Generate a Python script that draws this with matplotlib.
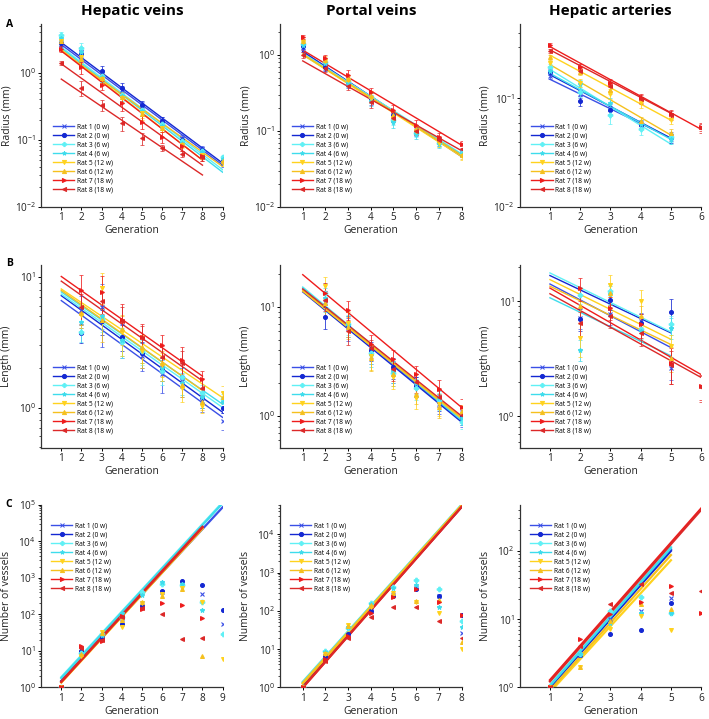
import matplotlib
matplotlib.use("Agg")
import matplotlib.pyplot as plt
from matplotlib.lines import Line2D
import numpy as np

nan = np.nan

plt.rcParams['font.family'] = ['Open Sans', 'DejaVu Sans']
plt.rcParams['mathtext.fontset'] = 'dejavusans'

# rats, colours, markers
rat_labels = ["Rat 1 (0 w)", "Rat 2 (0 w)", "Rat 3 (6 w)", "Rat 4 (6 w)",
              "Rat 5 (12 w)", "Rat 6 (12 w)", "Rat 7 (18 w)", "Rat 8 (18 w)"]
rat_colors = ["#3a4fe6", "#1428d2", "#5ff0f5", "#3edcec",
              "#ffd21e", "#f5c01e", "#ee1c1c", "#dc2828"]
rat_markers = ["x", "o", "P", "*", "v", "^", ">", "<"]

col_titles = ["Hepatic veins", "Portal veins", "Hepatic arteries"]

# ---------------- row A: radius (mm) ----------------
hv_rad_gen = [1, 2, 3, 4, 5, 6, 7, 8, 9]
hv_rad = [[2.7, 2.0, 0.95, 0.55, 0.32, 0.19, 0.105, 0.072, 0.045],
          [2.8, 1.9, 1.07, 0.6, 0.33, 0.19, 0.10, 0.07, 0.048],
          [3.6, 2.3, 0.9, 0.47, 0.28, 0.17, 0.095, 0.068, 0.055],
          [3.3, 2.0, 0.85, 0.45, 0.27, 0.16, 0.09, 0.065, 0.052],
          [3.0, 1.7, 0.8, 0.42, 0.25, 0.15, 0.085, 0.06, 0.046],
          [2.9, 1.6, 0.82, 0.44, 0.24, 0.15, 0.088, 0.058, 0.048],
          [2.25, 1.2, 0.65, 0.35, 0.185, 0.11, 0.08, 0.057, nan],
          [1.4, 0.6, 0.33, 0.175, 0.105, 0.076, 0.062, 0.055, nan]]
hv_rad_err = [[0.3, 0.3, 0.15, 0.08, 0.05, 0.025, 0.012, 0.008, 0.005],
              [0.3, 0.3, 0.18, 0.1, 0.05, 0.025, 0.012, 0.008, 0.005],
              [0.4, 0.5, 0.12, 0.07, 0.04, 0.02, 0.01, 0.007, 0.005],
              [0.3, 0.4, 0.12, 0.07, 0.04, 0.02, 0.01, 0.007, 0.005],
              [0.3, 0.3, 0.12, 0.07, 0.04, 0.02, 0.01, 0.007, 0.005],
              [0.3, 0.3, 0.12, 0.07, 0.04, 0.02, 0.01, 0.007, 0.005],
              [0.2, 0.25, 0.1, 0.08, 0.04, 0.02, 0.012, 0.008, nan],
              [0.1, 0.15, 0.06, 0.04, 0.02, 0.008, 0.006, 0.006, nan]]
# fit lines: (rat, value at gen 1, last gen, value at last gen)
hv_rad_fit = [(0, 2.6, 9, 0.042), (1, 2.8, 9, 0.045), (2, 2.4, 9, 0.036),
              (3, 2.3, 9, 0.033), (4, 2.2, 8, 0.05), (5, 2.1, 9, 0.04),
              (6, 2.1, 8, 0.05), (7, 1.35, 8, 0.042), (7, 0.8, 8, 0.03)]

pv_rad_gen = [1, 2, 3, 4, 5, 6, 7, 8]
pv_rad = [[1.22, 0.72, 0.42, 0.26, 0.15, 0.097, 0.072, 0.05],
          [1.3, 0.7, 0.44, 0.27, 0.16, 0.1, 0.075, 0.052],
          [1.4, 0.8, 0.45, 0.28, 0.14, 0.095, 0.07, 0.052],
          [1.35, 0.78, 0.43, 0.25, 0.13, 0.09, 0.068, 0.05],
          [1.45, 0.82, 0.47, 0.27, 0.15, 0.1, 0.07, 0.047],
          [1.5, 0.85, 0.48, 0.29, 0.16, 0.105, 0.075, 0.048],
          [1.7, 0.9, 0.55, 0.32, 0.19, 0.12, 0.083, 0.067],
          [1.0, 0.67, 0.39, 0.24, 0.15, 0.1, 0.077, 0.058]]
pv_rad_err = [[0.12, 0.08, 0.05, 0.04, 0.02, 0.012, 0.008, 0.005],
              [0.12, 0.08, 0.05, 0.04, 0.02, 0.012, 0.008, 0.005],
              [0.12, 0.1, 0.05, 0.04, 0.02, 0.012, 0.008, 0.005],
              [0.12, 0.1, 0.05, 0.04, 0.02, 0.012, 0.008, 0.005],
              [0.12, 0.1, 0.06, 0.04, 0.02, 0.012, 0.008, 0.005],
              [0.12, 0.1, 0.06, 0.04, 0.02, 0.012, 0.008, 0.005],
              [0.1, 0.1, 0.08, 0.05, 0.03, 0.02, 0.01, 0.007],
              [0.08, 0.07, 0.05, 0.04, 0.02, 0.012, 0.008, 0.006]]
pv_rad_fit = [(0, 1.1, 8, 0.046), (1, 1.1, 8, 0.047), (2, 1.05, 8, 0.05),
              (3, 1.0, 8, 0.049), (4, 1.0, 8, 0.046), (5, 1.02, 8, 0.048),
              (6, 1.15, 8, 0.065), (7, 0.83, 8, 0.055)]

ha_rad_gen = [1, 2, 3, 4, 5, 6]
ha_rad = [[0.16, 0.11, 0.08, 0.058, 0.045, nan],
          [0.175, 0.095, 0.078, 0.057, 0.043, nan],
          [0.195, 0.115, 0.07, 0.052, 0.044, nan],
          [0.18, 0.135, 0.09, 0.058, 0.042, nan],
          [0.21, 0.14, 0.11, 0.09, 0.063, nan],
          [0.24, 0.175, 0.12, 0.062, 0.048, nan],
          [0.31, 0.195, 0.14, 0.1, 0.072, 0.055],
          [0.275, 0.18, 0.13, 0.098, 0.07, 0.053]]
ha_rad_err = [[0.01, 0.01, 0.008, 0.005, 0.004, nan],
              [0.01, 0.01, 0.008, 0.005, 0.004, nan],
              [0.012, 0.012, 0.012, 0.006, 0.004, nan],
              [0.012, 0.012, 0.01, 0.006, 0.004, nan],
              [0.012, 0.012, 0.012, 0.008, 0.005, nan],
              [0.012, 0.012, 0.01, 0.005, 0.004, nan],
              [0.012, 0.012, 0.012, 0.01, 0.006, 0.005],
              [0.012, 0.012, 0.012, 0.01, 0.006, 0.005]]
ha_rad_fit = [(0, 0.15, 5, 0.043), (1, 0.165, 5, 0.043), (2, 0.185, 5, 0.038),
              (3, 0.17, 5, 0.042), (4, 0.25, 5, 0.063), (5, 0.205, 5, 0.046),
              (6, 0.3, 6, 0.052), (7, 0.28, 5, 0.073)]

# ---------------- row B: length (mm) ----------------
hv_len_gen = [1, 2, 3, 4, 5, 6, 7, 8, 9]
hv_len = [[nan, 5.6, 5.9, 3.4, 2.5, 1.8, 1.6, 1.12, 0.79],
          [nan, 3.7, 4.6, 3.5, 2.6, 2.0, 1.7, 1.2, 1.0],
          [nan, 3.8, 4.8, 3.2, 2.7, 1.9, 1.7, 1.3, 1.16],
          [nan, 4.55, 5.0, 3.3, 2.8, 2.0, 1.55, 1.2, 1.1],
          [nan, 5.1, 8.2, 3.8, 2.7, 2.1, 1.4, 1.03, 1.3],
          [nan, 5.3, 4.7, 4.0, 2.9, 2.2, 1.5, 1.1, 1.2],
          [nan, 7.9, 7.7, 4.7, 3.5, 3.0, 2.3, 1.64, nan],
          [nan, 5.9, 6.6, 4.6, 3.4, 2.45, 2.2, 1.42, nan]]
hv_len_err = [[nan, 1.5, 3.0, 1.0, 0.6, 0.5, 0.4, 0.2, 0.12],
              [nan, 0.6, 1.0, 0.8, 0.6, 0.4, 0.3, 0.2, 0.1],
              [nan, 0.6, 1.0, 0.8, 0.6, 0.4, 0.3, 0.2, 0.1],
              [nan, 0.8, 1.0, 0.8, 0.6, 0.4, 0.3, 0.2, 0.1],
              [nan, 1.0, 2.5, 1.3, 0.7, 0.5, 0.3, 0.12, 0.15],
              [nan, 1.0, 1.5, 1.0, 0.7, 0.5, 0.3, 0.15, 0.12],
              [nan, 2.5, 2.5, 1.5, 0.9, 0.6, 0.6, 0.25, nan],
              [nan, 1.5, 2.0, 1.3, 0.8, 0.5, 0.5, 0.25, nan]]
hv_len_fit = [(0, 6.6, 9, 0.84), (1, 7.2, 9, 0.92), (2, 7.4, 9, 1.0),
              (3, 7.7, 9, 1.06), (4, 8.1, 9, 1.19), (5, 7.9, 8, 1.35),
              (6, 10.1, 8, 1.74), (7, 9.3, 8, 1.6)]

pv_len_gen = [1, 2, 3, 4, 5, 6, 7, 8]
pv_len = [[nan, 11.0, 6.4, 3.8, 2.6, 1.9, 1.3, 0.95],
          [nan, 8.1, 6.8, 4.0, 2.8, 1.9, 1.35, 0.98],
          [nan, 13.5, 7.0, 3.8, 2.5, 1.8, 1.39, 0.88],
          [nan, 12.0, 6.8, 3.6, 2.6, 2.0, 1.45, 0.95],
          [nan, 15.4, 7.1, 3.55, 2.26, 1.47, 1.3, 1.05],
          [nan, 10.8, 6.6, 3.4, 2.4, 1.6, 1.2, 1.1],
          [nan, 13.4, 9.3, 4.6, 3.3, 2.4, 1.77, 1.22],
          [nan, 11.6, 6.0, 4.2, 2.7, 2.04, 1.5, 1.03]]
pv_len_err = [[nan, 3.0, 1.5, 0.8, 0.6, 0.4, 0.25, 0.15],
              [nan, 1.8, 1.5, 0.8, 0.6, 0.4, 0.25, 0.15],
              [nan, 3.0, 1.5, 0.8, 0.6, 0.4, 0.25, 0.12],
              [nan, 3.0, 1.5, 0.8, 0.6, 0.4, 0.25, 0.12],
              [nan, 3.5, 1.8, 0.9, 0.5, 0.3, 0.3, 0.15],
              [nan, 2.5, 1.5, 0.8, 0.5, 0.3, 0.25, 0.15],
              [nan, 3.0, 2.0, 0.9, 0.7, 0.5, 0.35, 0.2],
              [nan, 2.5, 1.5, 0.8, 0.6, 0.4, 0.3, 0.15]]
pv_len_fit = [(0, 14.4, 8, 0.9), (1, 13.7, 8, 0.88), (2, 15.2, 8, 0.93),
              (3, 14.9, 8, 0.91), (4, 13.9, 8, 0.95), (5, 14.2, 8, 0.97),
              (6, 19.7, 8, 1.2), (7, 14.6, 8, 1.0)]

ha_len_gen = [1, 2, 3, 4, 5, 6]
ha_len = [[nan, 7.2, 7.7, 6.7, 2.65, nan],
          [nan, 7.0, 10.3, 6.5, 8.1, nan],
          [nan, 11.4, 12.2, 5.7, 6.3, nan],
          [nan, 3.8, 11.5, 5.5, 5.9, nan],
          [nan, 4.8, 13.9, 10.0, 4.1, nan],
          [nan, 9.0, 11.8, 7.5, 3.2, nan],
          [nan, 13.0, 8.8, 6.3, 2.9, 1.84],
          [nan, 6.5, 7.4, 5.3, 2.8, 1.78]]
ha_len_err = [[nan, 1.5, 1.5, 1.2, 0.6, nan],
              [nan, 1.5, 2.0, 1.2, 2.3, nan],
              [nan, 2.0, 2.0, 1.0, 1.2, nan],
              [nan, 0.8, 2.0, 1.0, 1.2, nan],
              [nan, 1.5, 3.0, 2.5, 1.0, nan],
              [nan, 2.0, 2.5, 1.5, 0.8, nan],
              [nan, 3.0, 2.0, 1.5, 1.0, 0.45],
              [nan, 1.5, 1.5, 1.2, 0.9, 0.45]]
ha_len_fit = [(0, 14.1, 5, 3.95), (1, 16.7, 5, 5.3), (2, 17.6, 5, 5.4),
              (3, 10.7, 5, 3.35), (4, 15.4, 5, 4.66), (5, 13.5, 5, 4.2),
              (6, 13.0, 6, 2.3), (7, 11.6, 6, 2.17)]

# ---------------- row C: number of vessels ----------------
hv_num_gen = [1, 2, 3, 4, 5, 6, 7, 8, 9]
hv_num = [[1, 11, 24, 60, 200, 400, 700, 360, 56],
          [1, 10, 22, 54, 170, 440, 800, 650, 135],
          [1, 9, 29, 82, 400, 670, 650, 220, 29],
          [1, 8, 27, 110, 330, 750, 670, 135, nan],
          [1, 7.4, 32, 44, 210, 360, 510, 220, 6],
          [1, 8, 30, 70, 220, 320, 480, 7, nan],
          [1, 13.8, 19, 90, 140, 210, 180, 80, nan],
          [1, 12, 20, 85, 150, 105, 21, 23, nan]]
hv_num_fit = [(0, 1.45, 9, 8.5e4), (1, 1.5, 8, 2.4e4), (2, 1.9, 9, 1.16e5),
              (3, 1.8, 9, 1.1e5), (4, 1.35, 8, 2.2e4), (5, 1.4, 8, 2.3e4),
              (6, 1.4, 8, 2.4e4), (7, 1.45, 8, 2.5e4)]

pv_num_gen = [1, 2, 3, 4, 5, 6, 7, 8]
pv_num = [[1, 6.8, 24, 97, 260, 400, 250, 27],
          [1, 6.5, 25, 100, 240, 380, 250, 80],
          [1, 9.1, 35, 160, 430, 630, 385, 56],
          [1, 8.5, 38, 150, 400, 470, 130, 38],
          [1, 7.5, 44, 130, 290, 175, 88, 10],
          [1, 8, 40, 140, 300, 180, 190, 15],
          [1, 5.6, 22, 88, 225, 370, 175, 77],
          [1, 5.0, 20, 68, 123, 130, 54, 20]]
pv_num_fit = [(0, 1.1, 8, 5.5e4), (1, 1.05, 8, 5.3e4), (2, 1.4, 8, 6.0e4),
              (3, 1.35, 8, 5.9e4), (4, 1.3, 8, 5.8e4), (5, 1.25, 8, 5.7e4),
              (6, 1.0, 8, 5.3e4), (7, 0.98, 8, 5.2e4)]

ha_num_gen = [1, 2, 3, 4, 5, 6]
ha_num = [[1, 3, 10, 13, 20.5, nan],
          [1, 3, 6, 7, 17.3, nan],
          [1, 3.1, 13, 21, 12.2, nan],
          [1, 3.1, 8.9, 12.4, 12.2, nan],
          [1, 2.0, 7.1, 11, 7, nan],
          [1, 2.0, 9.4, 16.4, 14.1, nan],
          [1, 5.1, 11.7, 18, 31, 12.2],
          [1, 4.1, 16.4, 32.5, 24, 25.5]]
ha_num_fit = [(0, 1.0, 5, 105), (1, 1.0, 5, 100), (2, 1.08, 5, 114),
              (3, 1.05, 5, 110), (4, 0.85, 5, 73), (5, 0.9, 5, 87),
              (6, 1.28, 6, 420), (7, 1.22, 6, 400)]


def draw_panel(ax, gens, vals, errs, fits, xmax, ylim, ylabel, top_legend):
    """Draw one panel: fit lines, points with error bars, legend"""
    fit_lw = 1.0 if errs is not None else 1.6
    for rat, y0, x1, y1 in fits:
        ax.plot([1, x1], [y0, y1], color=rat_colors[rat], lw=fit_lw, zorder=2)
    for i in range(8):
        v = np.array(vals[i], dtype=float)
        g = np.array(gens[:len(v)], dtype=float)
        ms = 3.3 if rat_markers[i] in ("x", "P", "*") else 2.8
        if errs is not None:
            e = np.array(errs[i], dtype=float)
            ax.errorbar(g, v, yerr=e, fmt="none", ecolor=rat_colors[i],
                        elinewidth=0.7, capsize=1.2, capthick=0.6,
                        alpha=0.8, zorder=3)
        ax.plot(g, v, ls="none", marker=rat_markers[i], color=rat_colors[i],
                ms=ms, mew=0.8, zorder=4)
    ax.set_yscale("log")
    ax.set_xlim(0, xmax)
    ax.set_ylim(*ylim)
    ax.set_xticks(range(1, xmax + 1))
    ax.set_xlabel("Generation", fontsize=7.5, labelpad=1.5, color="#222222")
    ax.set_ylabel(ylabel, fontsize=7.5, color="#222222")
    ax.yaxis.set_label_coords(-0.16, 0.5)
    ax.tick_params(axis="both", which="major", labelsize=7.2, direction="out",
                   length=2.5, width=0.7, pad=1.2, labelcolor="#222222")
    ax.tick_params(axis="y", which="minor", direction="out", length=1.5,
                   width=0.5)
    ax.tick_params(axis="x", which="minor", bottom=False)
    for s in ("top", "right"):
        ax.spines[s].set_visible(False)
    for s in ("left", "bottom"):
        ax.spines[s].set_linewidth(0.9)
        ax.spines[s].set_color("#333333")
    handles = [Line2D([0], [0], color=rat_colors[i], marker=rat_markers[i],
                      ms=3, lw=1.0, mew=0.7) for i in range(8)]
    if top_legend:
        ax.legend(handles, rat_labels, loc="upper left",
                  bbox_to_anchor=(0.04, 0.92), frameon=False, fontsize=4.8,
                  handlelength=3.2, labelspacing=0.3, handletextpad=0.4,
                  borderaxespad=0)
    else:
        ax.legend(handles, rat_labels, loc="lower left",
                  bbox_to_anchor=(0.05, 0.06), frameon=False, fontsize=4.8,
                  handlelength=3.2, labelspacing=0.3, handletextpad=0.4,
                  borderaxespad=0)


fig = plt.figure(figsize=(7.09, 7.19), dpi=100)

col_x = [0.058, 0.395, 0.733]
row_y = [0.712, 0.377, 0.044]
w = 0.256
h = 0.254

panels = [
    [(hv_rad_gen, hv_rad, hv_rad_err, hv_rad_fit, 9, (0.01, 5.2), "Radius (mm)", False),
     (pv_rad_gen, pv_rad, pv_rad_err, pv_rad_fit, 8, (0.01, 2.5), "Radius (mm)", False),
     (ha_rad_gen, ha_rad, ha_rad_err, ha_rad_fit, 6, (0.01, 0.48), "Radius (mm)", False)],
    [(hv_len_gen, hv_len, hv_len_err, hv_len_fit, 9, (0.49, 12.3), "Length (mm)", False),
     (pv_len_gen, pv_len, pv_len_err, pv_len_fit, 8, (0.51, 24), "Length (mm)", False),
     (ha_len_gen, ha_len, ha_len_err, ha_len_fit, 6, (0.53, 20.5), "Length (mm)", False)],
    [(hv_num_gen, hv_num, None, hv_num_fit, 9, (1, 1e5), "Number of vessels", True),
     (pv_num_gen, pv_num, None, pv_num_fit, 8, (1, 6e4), "Number of vessels", True),
     (ha_num_gen, ha_num, None, ha_num_fit, 6, (1, 475), "Number of vessels", True)],
]

for r in range(3):
    for c in range(3):
        ax = fig.add_axes([col_x[c], row_y[r], w, h])
        draw_panel(ax, *panels[r][c])
        if r == 0:
            ax.set_title(col_titles[c], fontsize=11, fontweight="bold", pad=7)

for letter, y in zip(["A", "B", "C"], [0.963, 0.630, 0.295]):
    fig.text(0.008, y, letter, fontsize=7.5, fontweight="bold")

plt.savefig("out.png", dpi=100)
plt.close()
